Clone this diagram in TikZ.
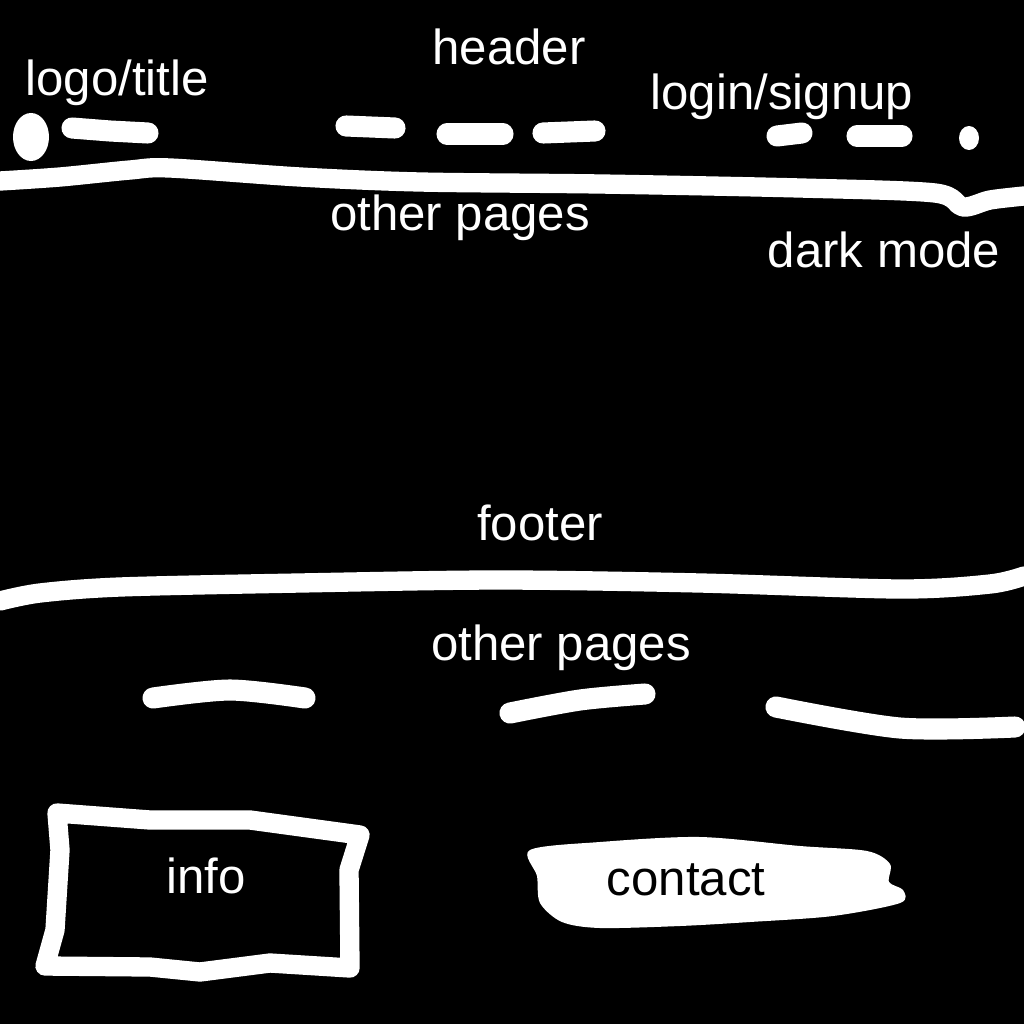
\documentclass[tikz,border=0pt]{standalone}
\usepackage{fontspec}
\setmainfont{Liberation Sans}
\usepackage{tikz}
\usetikzlibrary{positioning,calc}

\begin{document}
\begin{tikzpicture}[x=0.02cm, y=-0.02cm,
    lbl/.style={text=white, inner sep=0pt, font=\fontsize{28}{32}\selectfont},
    pen/.style={white, line width=11pt, line cap=round, line join=round},
    stroke/.style={white, line width=12pt, line cap=round}]
    \fill [black] (0,0) rectangle (1024,1024);
    \useasboundingbox (0,0) rectangle (1024,1024);

    \node [lbl] (logo) at (117,83) {logo/title};
    \node [lbl] (header) at (509,47) {header};
    \node [lbl] (login) at (782,97) {login/signup};
    \node [lbl] (pages) at (460,218) {other pages};
    \node [lbl] (dark) at (884,250) {dark mode};
    \node [lbl] (footer) at (540,523) {footer};
    \node [lbl] (fpages) at (561,648) {other pages};

    \fill [white] (31,137) ellipse (18 and 24);
    \draw [stroke] (72,128) -- (110,131) -- (148,133);
    \draw [stroke] (346,126) -- (395,128);
    \draw [stroke] (447,134) -- (503,134);
    \draw [stroke] (543,133) -- (595,131);
    \draw [stroke] (777,136) -- (802,133);
    \draw [stroke] (857,136) -- (902,136);
    \fill [white] (969,138) ellipse (10 and 12);

    \draw [pen] plot [smooth] coordinates {(0,181) (60,177) (130,170) (170,168) (300,177) (420,182) (600,184) (800,188) (935,193) (963,207) (990,200) (1024,196)};
    \draw [pen] plot [smooth] coordinates {(0,601) (40,593) (120,587) (300,583) (500,580) (700,583) (900,589) (990,584) (1024,576)};

    \draw [stroke] plot [smooth] coordinates {(153,698) (230,690) (305,698)};
    \draw [stroke] plot [smooth] coordinates {(510,713) (580,700) (645,694)};
    \draw [stroke] plot [smooth] coordinates {(776,707) (900,728) (1015,727)};

    \draw [pen] (57,813) -- (60,850) -- (55,930) -- (45,966) -- (150,967) -- (200,972) -- (270,963) -- (350,968) -- (349,870) -- (360,835) -- (250,820) -- (150,820) -- cycle;
    \node [lbl] (info) at (206,876) {info};

    \fill [white] plot [smooth cycle] coordinates {(530,850) (600,842) (700,837) (800,846) (867,851) (890,864) (889,882) (903,890) (900,903) (833,916) (750,922) (680,926) (600,928) (562,922) (540,903) (537,876)};
    \node [lbl, text=black] (contact) at (686,880) {contact};
\end{tikzpicture}
\end{document}
